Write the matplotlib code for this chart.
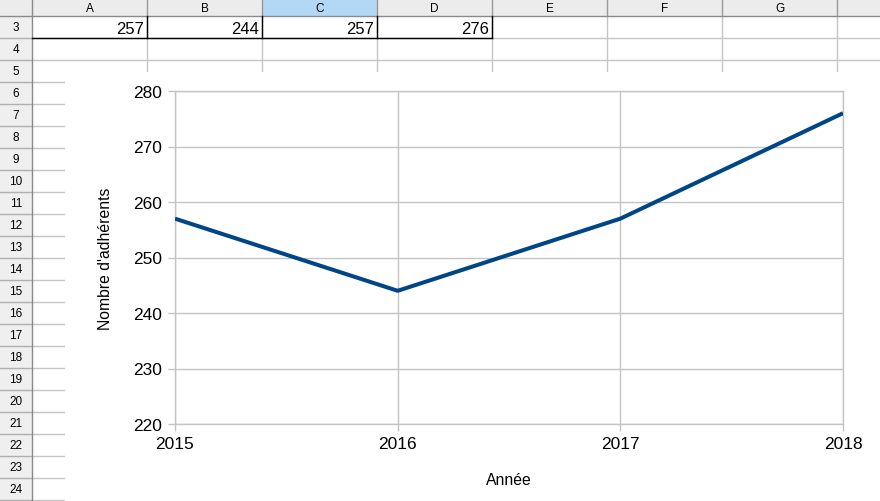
#!/usr/bin/env python
"""
Spreadsheet screenshot: member count per year, line chart over a sheet grid.
"""

# Third-party
import matplotlib

matplotlib.use("Agg")
import matplotlib.pyplot as plt  # noqa: E402
from matplotlib.patches import Rectangle  # noqa: E402

plt.rcParams["font.family"] = ["Liberation Sans", "DejaVu Sans"]

# Data
YEARS = [2015, 2016, 2017, 2018]
MEMBERS = [257, 244, 257, 276]
COLUMNS = ["A", "B", "C", "D", "E", "F", "G"]
ROWS = list(range(3, 25))
Y_TICKS = [220, 230, 240, 250, 260, 270, 280]

# Sheet geometry (pixels)
W, H = 880, 502
ROW_HDR_W = 32
COL_HDR_H = 17
COL_W = 115
ROW_H = 22
CHART_X, CHART_Y = 65, 73
GRID = "#c6c6c6"
CHART_GRID = "#c4c4c4"
LINE_BLUE = "#004586"


def draw_sheet(fig):
    """
    Draw the spreadsheet background: headers, cell grid and row 3 values.
    """
    ax = fig.add_axes([0, 0, 1, 1])
    ax.set_xlim(0, W)
    ax.set_ylim(H, 0)
    ax.axis("off")

    # cell grid
    col_edges = [ROW_HDR_W + COL_W * i for i in range(len(COLUMNS) + 2)]
    row_edges = [COL_HDR_H + ROW_H * i for i in range(len(ROWS) + 1)]
    for x in col_edges[1:]:
        ax.plot([x, x], [COL_HDR_H, H], color=GRID, lw=1, zorder=1)
    for y in row_edges[1:]:
        ax.plot([ROW_HDR_W, W], [y, y], color=GRID, lw=1, zorder=1)

    # chart object hides the grid below/right of it
    ax.add_patch(
        Rectangle((CHART_X, CHART_Y), W - CHART_X, H - CHART_Y,
                  facecolor="white", edgecolor="none", zorder=2)
    )

    # column header
    ax.add_patch(
        Rectangle((0, 0), W, COL_HDR_H, facecolor="#ececec",
                  edgecolor="none", zorder=3)
    )
    for i, name in enumerate(COLUMNS):
        x0 = col_edges[i]
        if name == "C":
            ax.add_patch(
                Rectangle((x0, 0), COL_W, COL_HDR_H, facecolor="#b3d8f5",
                          edgecolor="none", zorder=3)
            )
        ax.text(x0 + COL_W / 2, COL_HDR_H / 2 + 1, name, ha="center",
                va="center", fontsize=8.5, zorder=4)
    for x in col_edges[1:]:
        ax.plot([x, x], [0, COL_HDR_H], color="#9a9a9a", lw=1, zorder=4)
    ax.plot([0, W], [COL_HDR_H, COL_HDR_H], color="#8a8a8a", lw=1,
            zorder=4)

    # row header
    ax.add_patch(
        Rectangle((0, COL_HDR_H), ROW_HDR_W, H - COL_HDR_H,
                  facecolor="#efefef", edgecolor="none", zorder=3)
    )
    for i, row in enumerate(ROWS):
        y0 = row_edges[i]
        ax.text(ROW_HDR_W / 2, y0 + ROW_H / 2, str(row), ha="center",
                va="center", fontsize=8.5, zorder=4)
        ax.plot([0, ROW_HDR_W], [y0 + ROW_H, y0 + ROW_H], color="#b0b0b0",
                lw=1, zorder=4)
    ax.plot([ROW_HDR_W, ROW_HDR_W], [0, H], color="#8a8a8a", lw=1,
            zorder=4)

    # row 3 values with black borders
    y0, y1 = row_edges[0], row_edges[1]
    for i, value in enumerate(MEMBERS):
        x1 = col_edges[i + 1]
        ax.text(x1 - 3, (y0 + y1) / 2 + 1, str(value), ha="right",
                va="center", fontsize=12, zorder=4)
        ax.plot([x1, x1], [y0, y1], color="black", lw=1, zorder=4)
    ax.plot([ROW_HDR_W, col_edges[len(MEMBERS)]], [y1, y1], color="black",
            lw=1, zorder=4)


def draw_chart(fig):
    """
    Draw the line chart of members per year.
    """
    left, right, top, bottom = 175, 843, 92, 425
    ax = fig.add_axes([left / W, (H - bottom) / H, (right - left) / W,
                       (bottom - top) / H])
    ax.plot(YEARS, MEMBERS, color=LINE_BLUE, lw=2.9, zorder=3,
            solid_capstyle="butt")

    ax.set_xlim(YEARS[0], YEARS[-1])
    ax.set_ylim(Y_TICKS[0], Y_TICKS[-1])
    ax.set_xticks(YEARS)
    ax.set_yticks(Y_TICKS)
    ax.tick_params(axis="both", direction="out", length=5, width=1,
                   color=CHART_GRID, labelsize=12.5, pad=4)
    ax.grid(True, color=CHART_GRID, lw=1)
    for spine in ax.spines.values():
        spine.set_color(CHART_GRID)
        spine.set_linewidth(1)

    ax.set_xlabel("Année", fontsize=11.3, labelpad=15)
    ax.set_ylabel("Nombre d'adhérents", fontsize=11.3, labelpad=15)


def main():
    fig = plt.figure(figsize=(W / 100, H / 100), dpi=100)
    draw_sheet(fig)
    draw_chart(fig)
    fig.savefig("out.png", dpi=100)


if __name__ == "__main__":
    main()
